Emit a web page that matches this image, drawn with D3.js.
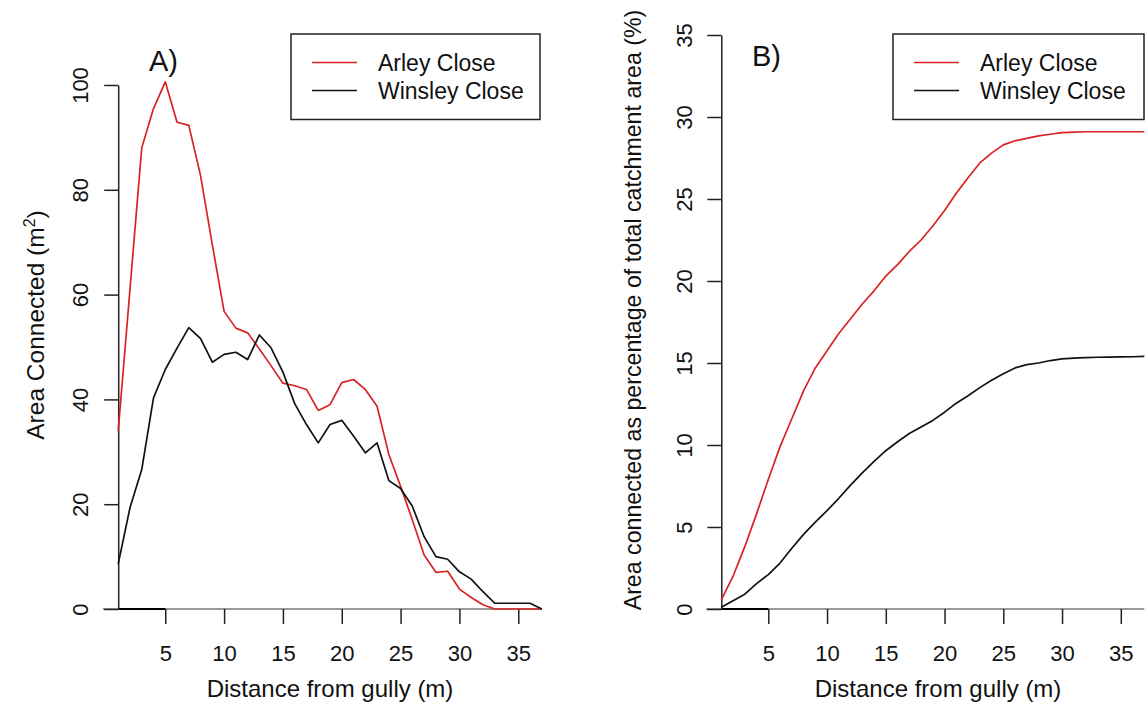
<!DOCTYPE html>
<html><head><meta charset="utf-8">
<script src="https://cdn.jsdelivr.net/npm/d3@7"></script>
<style>body{margin:0;background:#fff}svg{display:block;font-family:"Liberation Sans",Arial,sans-serif}</style>
</head><body>
<svg id="chart" width="1146" height="727"></svg>
<script>
// ---- data ----
const distance = d3.range(1, 38); // 1..37 m
const seriesNames = ["Arley Close", "Winsley Close"];
const seriesColors = ["#d92323", "#111111"];
// Panel A: area connected (m2)
const arleyArea = [34, 61, 88, 95.5, 100.6, 92.9, 92.3, 82.7, 69.5, 56.8, 53.6, 52.7, 49.6, 46.4, 43.1, 42.6, 41.9, 37.9, 39, 43.2, 43.8, 41.9, 38.7, 29.5, 23.4, 17, 10.3, 7, 7.2, 3.8, 2.2, 0.8, 0, 0, 0, 0, 0];
const winsleyArea = [8.6, 19.3, 26.6, 40.3, 45.7, 49.8, 53.7, 51.6, 47.1, 48.6, 49, 47.6, 52.3, 49.8, 45.2, 39.2, 35.2, 31.7, 35.2, 36, 33, 29.8, 31.7, 24.5, 23, 19.6, 13.8, 10, 9.5, 7.1, 5.7, 3.3, 1.1, 1.1, 1.1, 1.1, 0];
// Panel B: cumulative % of total catchment area
const arleyPct = [0.55, 2.0, 3.8, 5.8, 7.9, 9.9, 11.6, 13.3, 14.7, 15.75, 16.8, 17.7, 18.6, 19.4, 20.3, 21.0, 21.8, 22.5, 23.35, 24.3, 25.35, 26.3, 27.2, 27.8, 28.3, 28.55, 28.7, 28.85, 28.95, 29.05, 29.08, 29.1, 29.1, 29.1, 29.1, 29.1, 29.1];
const winsleyPct = [0.1, 0.5, 0.9, 1.55, 2.1, 2.8, 3.7, 4.55, 5.3, 6.0, 6.75, 7.55, 8.3, 9.0, 9.65, 10.2, 10.7, 11.1, 11.5, 12.0, 12.55, 13.0, 13.5, 13.95, 14.35, 14.7, 14.9, 15.0, 15.15, 15.25, 15.3, 15.33, 15.35, 15.36, 15.37, 15.38, 15.4];
const xTicks = [5, 10, 15, 20, 25, 30, 35];
const yTicksA = [0, 20, 40, 60, 80, 100];
const yTicksB = [0, 5, 10, 15, 20, 25, 30, 35];

const svg = d3.select("#chart");

function panel(opt) {
  const x = d3.scaleLinear().domain([1, 37]).range(opt.xr);
  const y = d3.scaleLinear().domain(opt.yd).range([609, opt.ytop]);
  const g = svg.append("g");
  // baseline grey line at y=0
  g.append("line").attr("x1", opt.baseX0).attr("x2", x(37)).attr("y1", y(0)).attr("y2", y(0))
    .attr("stroke", "#777").attr("stroke-width", 1.3);
  g.append("line").attr("x1", x(1)).attr("x2", x(5)).attr("y1", y(0)).attr("y2", y(0))
    .attr("stroke", "#000").attr("stroke-width", 2);
  // x axis ticks
  const xa = g.append("g").attr("transform", `translate(0,${y(0)})`)
    .call(d3.axisBottom(x).tickValues(xTicks).tickSize(15).tickSizeOuter(0).tickPadding(21));
  xa.select(".domain").remove();
  xa.selectAll(".tick line").attr("stroke", "#222").attr("stroke-width", 1.5);
  xa.selectAll("text").attr("font-size", 22).attr("fill", "#111").attr("font-family", "Liberation Sans, Arial, sans-serif");
  // y axis
  const ya = g.append("g").attr("transform", `translate(${x(1)},0)`)
    .call(d3.axisLeft(y).tickValues(opt.yTicks).tickSize(14).tickSizeOuter(0).tickFormat(d3.format("d")));
  ya.select(".domain").attr("stroke", "#222").attr("stroke-width", 1.5);
  ya.selectAll(".tick line").attr("stroke", "#222").attr("stroke-width", 1.5);
  ya.selectAll("text").attr("font-size", 22).attr("fill", "#111")
    .attr("font-family", "Liberation Sans, Arial, sans-serif")
    .attr("text-anchor", "middle").attr("x", 0).attr("dy", 0)
    .attr("transform", `translate(${opt.labX - x(1)},0) rotate(-90)`)
    .attr("dominant-baseline", "central");
  // lines
  const line = d3.line().x((d, i) => x(distance[i])).y(d => y(d));
  opt.series.forEach((s, k) => {
    g.append("path").datum(s).attr("d", line).attr("fill", "none")
      .attr("stroke", seriesColors[k]).attr("stroke-width", 1.7).attr("stroke-linejoin", "round");
  });
  // x title
  g.append("text").attr("x", opt.xTitleX).attr("y", 697).attr("text-anchor", "middle")
    .attr("font-size", 24).attr("fill", "#111").text("Distance from gully (m)");
  // panel label
  g.append("text").attr("x", opt.lab[0]).attr("y", opt.lab[1]).attr("font-size", 29).attr("fill", "#111").text(opt.label);
  // legend
  const L = opt.legend;
  g.append("rect").attr("x", L[0]).attr("y", 34).attr("width", L[1] - L[0]).attr("height", 85.5)
    .attr("fill", "none").attr("stroke", "#222").attr("stroke-width", 1.5);
  seriesNames.forEach((n, k) => {
    const yy = 62.5 + k * 28;
    g.append("line").attr("x1", L[0] + 21).attr("x2", L[0] + 66).attr("y1", yy).attr("y2", yy)
      .attr("stroke", seriesColors[k]).attr("stroke-width", 1.7);
    g.append("text").attr("x", L[0] + 87).attr("y", yy + 8.5).attr("font-size", 23).attr("fill", "#111").text(n);
  });
  return g;
}

const gA = panel({xr: [118.2, 541.8], yd: [0, 100], ytop: 85, baseX0: 103, labX: 80,
  yTicks: yTicksA, series: [arleyArea, winsleyArea], xTitleX: 330, lab: [149, 71], label: "A)",
  legend: [291, 540]});
const gB = panel({xr: [721.3, 1144.3], yd: [0, 35], ytop: 35, baseX0: 706, labX: 684,
  yTicks: yTicksB, series: [arleyPct, winsleyPct], xTitleX: 938, lab: [752, 66], label: "B)",
  legend: [893, 1144]});

// y titles
const tA = svg.append("text").attr("transform", "translate(44,325) rotate(-90)")
  .attr("text-anchor", "middle").attr("font-size", 24.5).attr("fill", "#111");
tA.append("tspan").text("Area Connected (m");
tA.append("tspan").attr("font-size", 16).attr("dy", -9).text("2");
tA.append("tspan").attr("dy", 9).text(")");
svg.append("text").attr("transform", "translate(641,310) rotate(-90)")
  .attr("text-anchor", "middle").attr("font-size", 23.2).attr("fill", "#111")
  .text("Area connected as percentage of total catchment area (%)");
</script>
</body></html>
